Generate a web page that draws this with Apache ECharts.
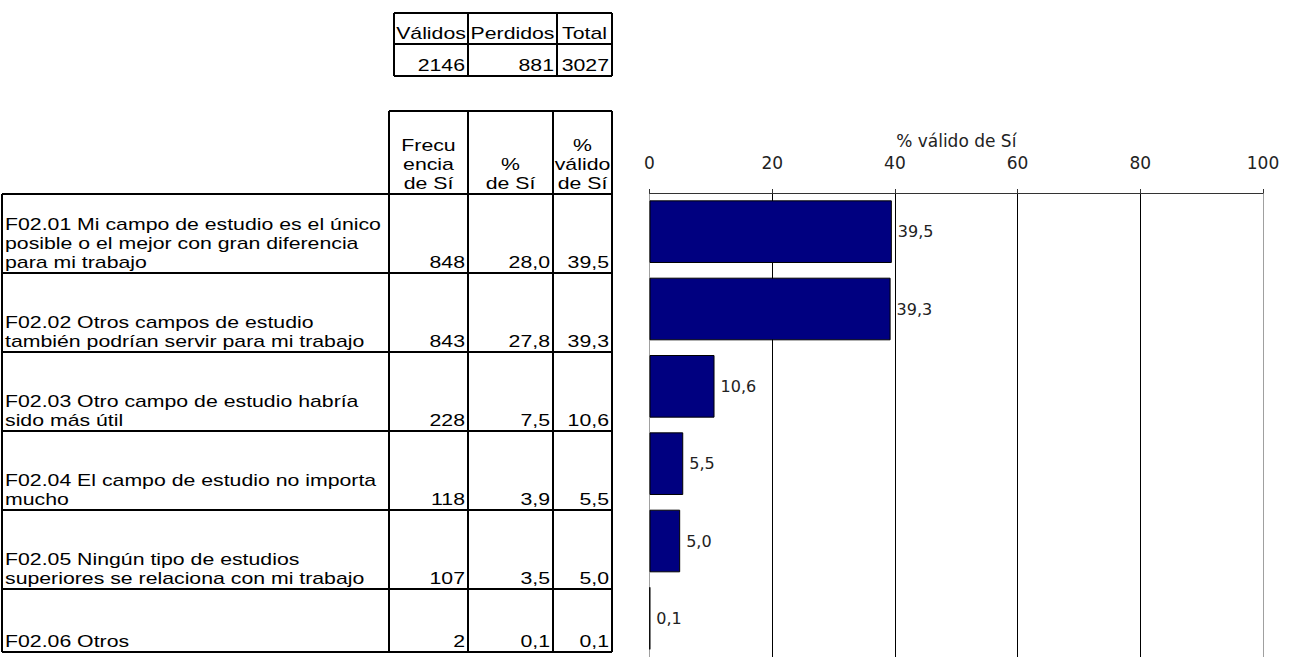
<!DOCTYPE html>
<html><head><meta charset="utf-8">
<script src="https://cdn.jsdelivr.net/npm/echarts@6/dist/echarts.min.js"></script>
<style>html,body{margin:0;padding:0;background:#fff}#c{width:1289px;height:657px}</style>
</head><body><div id="c"></div>
<script>
// ---- data ----
const categories = [
  'F02.01 Mi campo de estudio es el único\nposible o el mejor con gran diferencia\npara mi trabajo',
  'F02.02 Otros campos de estudio\ntambién podrían servir para mi trabajo',
  'F02.03 Otro campo de estudio habría\nsido más útil',
  'F02.04 El campo de estudio no importa\nmucho',
  'F02.05 Ningún tipo de estudios\nsuperiores se relaciona con mi trabajo',
  'F02.06 Otros'
];
const frecuencia = [848, 843, 228, 118, 107, 2];
const pctSi = [28.0, 27.8, 7.5, 3.9, 3.5, 0.1];
const pctValido = [39.5, 39.3, 10.6, 5.5, 5.0, 0.1];
const summaryHeaders = ['Válidos', 'Perdidos', 'Total'];
const summaryValues = [2146, 881, 3027];
const tableHeaders = ['Frecu\nencia\nde Sí', '%\nde Sí', '%\nválido\nde Sí'];
const axisTitle = '% válido de Sí';
const axisTicks = [0, 20, 40, 60, 80, 100];

// ---- layout / style ----
const FONT = '"Liberation Sans", Arial, sans-serif';
const CFONT = '"DejaVu Sans", sans-serif';
const SX = 1.33;
const fmt = v => v.toFixed(1).replace('.', ',');
const g = [];
function line(x1, y1, x2, y2, w) {
  g.push({type: 'line', silent: true, shape: {x1, y1, x2, y2}, style: {stroke: '#000', lineWidth: w || 2}});
}
function text(x, y, t, align) {
  g.push({type: 'text', silent: true, x, y, scaleX: SX, style: {text: t, fill: '#000', fontFamily: FONT, fontSize: 16,
    lineHeight: 19, align: align, verticalAlign: 'bottom'}});
}
// summary table
const sX = [394, 468, 557, 612], sY = [13, 44, 76];
sY.forEach(y => line(sX[0], y, sX[3], y));
sX.forEach(x => line(x, sY[0], x, sY[2]));
summaryHeaders.forEach((h, i) => text((sX[i] + sX[i + 1]) / 2, sY[1] - 1, h, 'center'));
summaryValues.forEach((v, i) => text(sX[i + 1] - 3, sY[2] - 1, String(v), 'right'));
// main table
const cX = [2, 389, 468, 553, 612];
const hTop = 111, rY = [194, 273, 352, 431, 510, 589, 652];
line(cX[1], hTop, cX[4], hTop);
for (let i = 1; i < cX.length; i++) line(cX[i], hTop, cX[i], rY[rY.length - 1]);
line(cX[0], rY[0], cX[0], rY[rY.length - 1]);
rY.forEach(y => line(cX[0], y, cX[4], y));
tableHeaders.forEach((h, i) => text((cX[i + 1] + cX[i + 2]) / 2, rY[0] - 1, h, 'center'));
categories.forEach((c, r) => {
  const yb = rY[r + 1] - 1;
  text(cX[0] + 3, yb, c, 'left');
  text(cX[2] - 3, yb, String(frecuencia[r]), 'right');
  text(cX[3] - 3, yb, fmt(pctSi[r]), 'right');
  text(cX[4] - 3, yb, fmt(pctValido[r]), 'right');
});

const chart = echarts.init(document.getElementById('c'), null, {renderer: 'svg'});
chart.setOption({
  animation: false,
  backgroundColor: '#fff',
  grid: {left: 649.5, right: 26, top: 193, bottom: -10, containLabel: false},
  xAxis: {
    type: 'value', position: 'top', min: axisTicks[0], max: axisTicks[axisTicks.length - 1], interval: 20,
    name: axisTitle, nameLocation: 'middle', nameGap: 44,
    nameTextStyle: {fontFamily: CFONT, fontSize: 17, color: '#222'},
    axisLine: {show: true, lineStyle: {color: '#333', width: 1}},
    axisTick: {show: true, length: 4, inside: false, lineStyle: {color: '#333'}},
    axisLabel: {margin: 22, fontFamily: CFONT, fontSize: 17, color: '#222'},
    splitLine: {show: true, lineStyle: {color: ['#a0a0a0', '#000', '#000', '#000', '#000', '#a0a0a0'], width: 1}}
  },
  yAxis: {
    type: 'category', inverse: true, data: categories,
    axisLine: {show: false}, axisTick: {show: false}, axisLabel: {show: false}, splitLine: {show: false}
  },
  series: [{
    type: 'bar', data: pctValido, barCategoryGap: '19%',
    itemStyle: {color: '#000080', borderColor: '#000', borderWidth: 1},
    label: {show: true, position: 'right', distance: 6, fontFamily: CFONT, fontSize: 16, color: '#222',
      formatter: p => fmt(p.value)}
  }],
  graphic: g
});
</script></body></html>
